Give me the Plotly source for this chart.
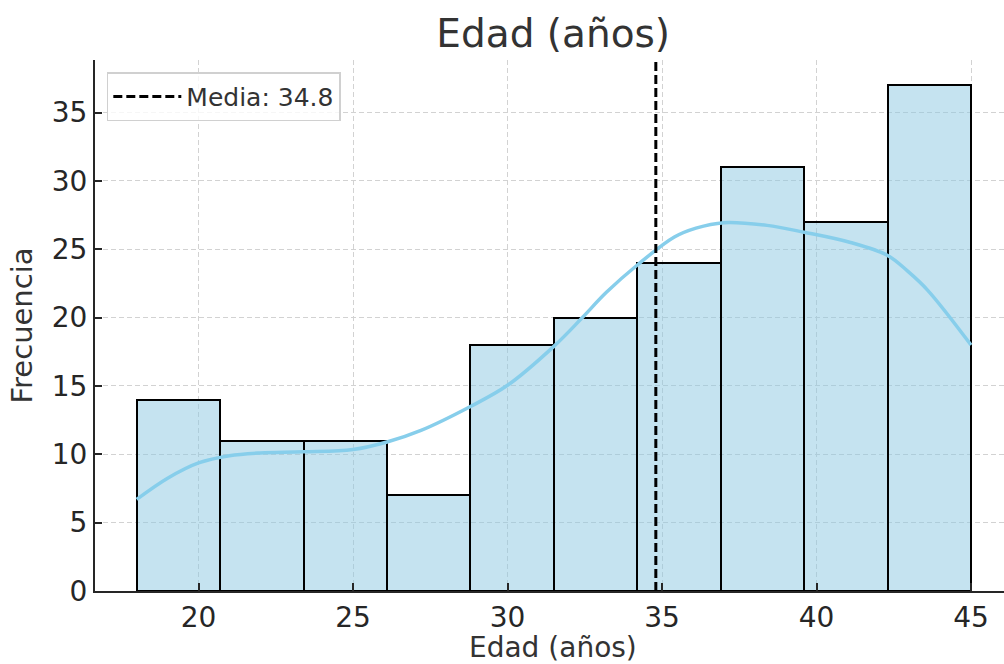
import plotly.graph_objects as go

# Age histogram (bin edges and counts per bin)
bin_edges = [18.0, 20.7, 23.4, 26.1, 28.8, 31.5, 34.2, 36.9, 39.6, 42.3, 45.0]
counts = [14, 11, 11, 7, 18, 20, 24, 31, 27, 37]

# Smoothed density curve, scaled to counts
kde_x = [18.0, 19.0, 20.0, 21.0, 22.0, 23.4, 25.0, 26.1, 27.2, 28.8, 30.0, 31.5,
         32.4, 33.2, 34.2, 35.4, 36.1, 37.0, 38.4, 39.6, 41.1, 42.3, 42.95, 43.6, 45.0]
kde_y = [6.7, 8.25, 9.37, 9.9, 10.1, 10.18, 10.35, 10.9, 11.75, 13.5, 15.05, 17.9,
         19.95, 21.85, 23.85, 25.9, 26.55, 26.95, 26.75, 26.25, 25.5, 24.55, 23.4, 22.0, 18.0]

mean_age = 34.8
x_ticks = [20, 25, 30, 35, 40, 45]
y_ticks = [0, 5, 10, 15, 20, 25, 30, 35]

centers = [(a + b) / 2 for a, b in zip(bin_edges[:-1], bin_edges[1:])]
widths = [b - a for a, b in zip(bin_edges[:-1], bin_edges[1:])]

FONT = "DejaVu Sans"
TXT = "#262626"
GRID = "#d2d2d2"

fig = go.Figure()

fig.add_trace(go.Bar(
    x=centers, y=counts, width=widths,
    marker=dict(color="rgba(140,200,225,0.5)", line=dict(color="black", width=2)),
    showlegend=False, hoverinfo="x+y",
))

fig.add_trace(go.Scatter(
    x=kde_x, y=kde_y, mode="lines", line=dict(color="#87CEEB", width=3.5, shape="spline"),
    showlegend=False,
))

# Mean marker: vertical dashed line plus a legend entry
fig.add_vline(x=mean_age, line=dict(color="black", width=3, dash="9px,4px"))
fig.add_trace(go.Scatter(
    x=[None], y=[None], mode="lines", name=f"Media: {mean_age}",
    line=dict(color="black", width=3, dash="9px,4px"),
))

x_lo = bin_edges[0] - 0.05 * (bin_edges[-1] - bin_edges[0])
y_hi = max(counts) * 1.05

# x-axis label placed below the tick labels
fig.add_annotation(
    text="Edad (años)", xref="paper", yref="paper", x=0.504, y=0,
    xanchor="center", yanchor="top", yshift=-38, showarrow=False,
    font=dict(size=28, color="#333333", family=FONT),
)

fig.update_layout(
    width=1004, height=664,
    margin=dict(l=95, r=0, t=60, b=73, autoexpand=False),
    paper_bgcolor="white", plot_bgcolor="white",
    font=dict(family=FONT, color=TXT),
    bargap=0,
    title=dict(text="Edad (años)", x=0.551, xanchor="center", y=1 - 33 / 664,
               yanchor="middle", yref="container", font=dict(size=39, color="#333333")),
    legend=dict(x=0.013, y=0.977, xanchor="left", yanchor="top", itemwidth=68,
                bgcolor="rgba(255,255,255,0.8)", bordercolor="#d0d0d0", borderwidth=1.5,
                font=dict(size=25, color="#333333")),
    xaxis=dict(
        range=[x_lo, x_lo + 909 / 30.9], tickvals=x_ticks, automargin=False,
        showline=True, linecolor=TXT, linewidth=2,
        ticks="inside", ticklen=8, tickwidth=1.5, tickcolor=TXT,
        tickfont=dict(size=28, color=TXT),
        showgrid=True, gridcolor=GRID, griddash="5px,3px", gridwidth=1,
        zeroline=False,
    ),
    yaxis=dict(
        range=[0, y_hi], tickvals=y_ticks, automargin=False,
        showline=True, linecolor=TXT, linewidth=2,
        ticks="inside", ticklen=7, tickwidth=1.5, tickcolor=TXT,
        tickfont=dict(size=28, color=TXT),
        showgrid=True, gridcolor=GRID, griddash="5px,3px", gridwidth=1,
        zeroline=False,
        title=dict(text="Frecuencia", font=dict(size=29, color="#333333"), standoff=11),
    ),
)

fig.write_html("out.html")
